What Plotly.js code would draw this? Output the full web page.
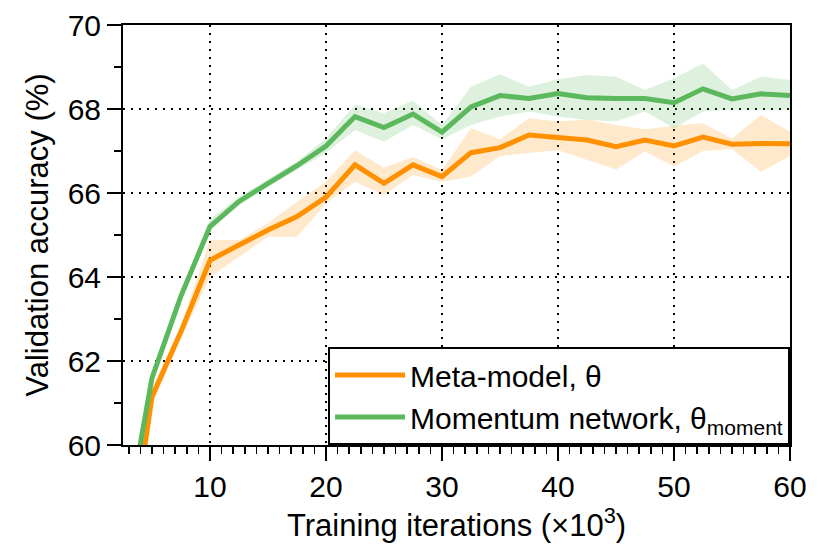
<!DOCTYPE html>
<html>
<head>
<meta charset="utf-8">
<script src="https://cdn.plot.ly/plotly-3.0.1.min.js"></script>
<style>
  html, body { margin: 0; padding: 0; background: #fff; }
  #graph { width: 830px; height: 554px; }
</style>
</head>
<body>
<div id="graph"></div>
<script>
// training iterations (x1000)
const iters = [2.5, 5, 7.5, 10, 12.5, 15, 17.5, 20, 22.5, 25, 27.5, 30,
               32.5, 35, 37.5, 40, 42.5, 45, 47.5, 50, 52.5, 55, 57.5, 60];

// meta-model, theta
const metaMean = [56.4, 61.15, 62.7, 64.4, 64.76, 65.12, 65.44, 65.9, 66.67, 66.23, 66.67, 66.39,
                  66.96, 67.08, 67.38, 67.33, 67.26, 67.1, 67.26, 67.12, 67.33, 67.16, 67.18, 67.17];
const metaUpper = [56.6, 61.35, 62.85, 64.88, 64.88, 65.28, 65.79, 66.27, 67.02, 66.6, 66.86, 66.55,
                   67.54, 67.28, 67.78, 67.7, 67.75, 67.62, 67.52, 67.6, 67.66, 67.3, 67.86, 67.46];
const metaLower = [56.2, 60.95, 62.55, 64.0, 64.48, 64.96, 64.96, 65.75, 66.27, 65.95, 66.43, 66.27,
                   66.39, 66.88, 66.95, 67.02, 66.79, 66.56, 66.99, 66.63, 67.0, 67.05, 66.5, 66.88];

// momentum network, theta_moment
const momMean = [57.7, 61.6, 63.55, 65.2, 65.8, 66.23, 66.65, 67.12, 67.82, 67.56, 67.88, 67.45,
                 68.05, 68.32, 68.25, 68.37, 68.27, 68.25, 68.25, 68.15, 68.48, 68.24, 68.36, 68.32];
const momUpper = [57.8, 61.7, 63.65, 65.38, 65.91, 66.32, 66.75, 67.3, 68.11, 67.9, 68.2, 67.62,
                  68.53, 68.83, 68.53, 68.71, 68.81, 68.77, 68.45, 68.73, 69.09, 68.45, 68.77, 68.69];
const momLower = [57.6, 61.5, 63.45, 65.12, 65.7, 66.15, 66.55, 66.95, 67.5, 67.22, 67.62, 67.28,
                  67.62, 67.82, 67.94, 67.82, 67.74, 67.7, 67.94, 67.54, 67.94, 67.98, 67.98, 67.98];

const orange = '#ff9100';
const green = '#5cb85c';
const font = 'Liberation Sans, Arial, Helvetica, sans-serif';

// shaded band = upper edge forward, lower edge back
function band(upper, lower, fill) {
    return {
        x: iters.concat(iters.slice().reverse()),
        y: upper.concat(lower.slice().reverse()),
        type: 'scatter',
        mode: 'lines',
        fill: 'toself',
        fillcolor: fill,
        line: { width: 0 },
        hoverinfo: 'skip',
        showlegend: false
    };
}

const traces = [
    band(metaUpper, metaLower, 'rgba(255,145,0,0.2)'),
    band(momUpper, momLower, 'rgba(92,184,92,0.2)'),
    {
        x: iters, y: metaMean, type: 'scatter', mode: 'lines',
        name: 'Meta-model, θ',
        line: { color: orange, width: 5 }
    },
    {
        x: iters, y: momMean, type: 'scatter', mode: 'lines',
        name: 'Momentum network, θ<sub>moment</sub>',
        line: { color: green, width: 5 }
    }
];

const layout = {
    width: 830,
    height: 554,
    margin: { l: 123, r: 40, t: 25, b: 109 },
    paper_bgcolor: '#fff',
    plot_bgcolor: '#fff',
    font: { family: font, color: '#000', size: 30 },
    showlegend: true,
    legend: {
        x: 1, xanchor: 'right', y: 0, yanchor: 'bottom',
        bgcolor: '#fff', bordercolor: '#000', borderwidth: 2,
        font: { size: 30 }, itemwidth: 70, tracegroupgap: 0
    },
    xaxis: {
        range: [2.5, 60],
        tick0: 0, dtick: 10,
        ticks: 'outside', ticklen: 14, tickwidth: 2, tickcolor: '#000',
        minor: { dtick: 1, ticks: 'outside', ticklen: 7, tickwidth: 1.5, tickcolor: '#000', showgrid: false },
        showline: true, linecolor: '#000', linewidth: 2, mirror: true,
        showgrid: true, gridcolor: '#000', gridwidth: 2, griddash: '2px,6px',
        zeroline: false,
        tickfont: { size: 30 },
        title: { text: 'Training iterations (×10<sup>3</sup>)', font: { size: 31 }, standoff: 12 }
    },
    yaxis: {
        range: [60, 70],
        tick0: 60, dtick: 2,
        ticks: 'outside', ticklen: 14, tickwidth: 2, tickcolor: '#000',
        minor: { dtick: 1, ticks: 'outside', ticklen: 7, tickwidth: 1.5, tickcolor: '#000', showgrid: false },
        showline: true, linecolor: '#000', linewidth: 2, mirror: true,
        showgrid: true, gridcolor: '#000', gridwidth: 2, griddash: '2px,6px',
        zeroline: false,
        tickfont: { size: 30 },
        title: { text: 'Validation accuracy (%)', font: { size: 31 }, standoff: 10 }
    }
};

Plotly.newPlot('graph', traces, layout, { displayModeBar: false, staticPlot: true });
</script>
</body>
</html>
